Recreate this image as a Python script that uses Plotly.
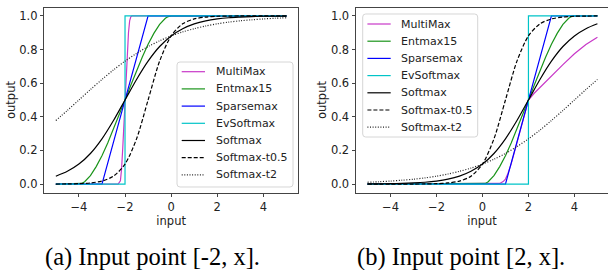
import plotly.graph_objects as go

W, H = 608, 270

# ---------------- data ----------------
series_names = ["MultiMax", "Entmax15", "Sparsemax", "EvSoftmax", "Softmax", "Softmax-t0.5", "Softmax-t2"]

x_grid = [-5, -4.5, -4, -3.5, -3, -2.5, -2, -1.5, -1, -0.5, 0, 0.5, 1, 1.5, 2, 2.5, 3, 3.5, 4, 4.5, 5]

# (a) input point [-2, x]
a_softmax = [0.047, 0.076, 0.119, 0.182, 0.269, 0.378, 0.5, 0.622, 0.731, 0.818, 0.881,
             0.924, 0.953, 0.971, 0.982, 0.989, 0.993, 0.996, 0.998, 0.998, 0.999]
a_softmax_t05 = [0.0003, 0.0009, 0.0025, 0.0067, 0.018, 0.047, 0.119, 0.269, 0.5, 0.731, 0.881,
                 0.953, 0.982, 0.993, 0.998, 0.999, 1.0, 1.0, 1.0, 1.0, 1.0]
a_softmax_t2 = [0.378, 0.438, 0.5, 0.562, 0.622, 0.679, 0.731, 0.777, 0.818, 0.852, 0.881,
                0.905, 0.924, 0.940, 0.953, 0.963, 0.971, 0.977, 0.982, 0.986, 0.989]
a_sparsemax_x = [-5, -3, -1, 5]
a_sparsemax_y = [0, 0, 1, 1]
a_evsoftmax_x = [-5, -2, -2, 5]
a_evsoftmax_y = [0, 0, 1, 1]
a_entmax_x = [-5, -4, -3.875, -3.75, -3.5, -3.25, -3, -2.75, -2.5, -2.25, -2, -1.75, -1.5,
              -1.25, -1, -0.75, -0.5, -0.25, -0.125, 0, 5]
a_entmax_y = [0, 0, 0.004, 0.014, 0.050, 0.104, 0.169, 0.244, 0.326, 0.412, 0.5, 0.588, 0.674,
              0.756, 0.831, 0.896, 0.950, 0.986, 0.996, 1, 1]
a_multimax_x = [-5, -2.3, -2.2, -2.15, -2.1, -2.05, -2, -1.95, -1.9, -1.85, -1.8, -1.75, -1.7, 5]
a_multimax_y = [0, 0, 0.02, 0.09, 0.21, 0.35, 0.5, 0.64, 0.78, 0.9, 0.97, 0.995, 1, 1]

# (b) input point [2, x]
b_softmax = [0.001, 0.0015, 0.0025, 0.004, 0.0067, 0.011, 0.018, 0.029, 0.047, 0.076, 0.119,
             0.182, 0.269, 0.378, 0.5, 0.622, 0.731, 0.818, 0.881, 0.924, 0.953]
b_softmax_t05 = [0.0, 0.0, 0.0, 0.0001, 0.0003, 0.0009, 0.0025, 0.0067, 0.018, 0.047, 0.119,
                 0.269, 0.5, 0.731, 0.881, 0.953, 0.982, 0.993, 0.998, 0.999, 1.0]
b_softmax_t2 = [0.011, 0.014, 0.018, 0.023, 0.029, 0.037, 0.047, 0.060, 0.076, 0.095, 0.119,
                0.148, 0.182, 0.223, 0.269, 0.321, 0.378, 0.438, 0.5, 0.562, 0.622]
b_sparsemax_x = [-5, 1, 3, 5]
b_sparsemax_y = [0, 0, 1, 1]
b_evsoftmax_x = [-5, 2, 2, 5]
b_evsoftmax_y = [0, 0, 1, 1]
b_entmax_x = [-5, 0, 0.125, 0.25, 0.5, 0.75, 1, 1.25, 1.5, 1.75, 2, 2.25, 2.5,
              2.75, 3, 3.25, 3.5, 3.75, 3.875, 4, 5]
b_entmax_y = [0, 0, 0.004, 0.014, 0.050, 0.104, 0.169, 0.244, 0.326, 0.412, 0.5, 0.588, 0.674,
              0.756, 0.831, 0.896, 0.950, 0.986, 0.996, 1, 1]
b_multimax_x = [-5, 0.6, 0.75, 0.9, 1.0, 1.1, 1.25, 1.5, 1.75, 2, 2.25, 2.5, 3, 3.5, 4, 4.5, 5]
b_multimax_y = [0, 0, 0.004, 0.015, 0.03, 0.06, 0.12, 0.245, 0.37, 0.5, 0.54, 0.575, 0.645,
                0.71, 0.775, 0.83, 0.873]

x_ticks = [-4, -2, 0, 2, 4]
y_ticks = [0.0, 0.2, 0.4, 0.6, 0.8, 1.0]
captions = ["(a) Input point [-2, x].", "(b) Input point [2, x]."]

# ---------------- styles ----------------
colors = ["#c838c8", "#1a941a", "#0000ff", "#00c4c8", "#000000", "#000000", "#222222"]
dashes = ["solid", "solid", "solid", "solid", "solid", "4px,2px", "1px,1.6px"]
shapes_ = ["linear", "linear", "linear", "linear", "spline", "spline", "spline"]
LW = 1.2

fig = go.Figure()

panels = [
    dict(xs=[a_multimax_x, a_entmax_x, a_sparsemax_x, a_evsoftmax_x, x_grid, x_grid, x_grid],
         ys=[a_multimax_y, a_entmax_y, a_sparsemax_y, a_evsoftmax_y, a_softmax, a_softmax_t05, a_softmax_t2],
         xa="x", ya="y"),
    dict(xs=[b_multimax_x, b_entmax_x, b_sparsemax_x, b_evsoftmax_x, x_grid, x_grid, x_grid],
         ys=[b_multimax_y, b_entmax_y, b_sparsemax_y, b_evsoftmax_y, b_softmax, b_softmax_t05, b_softmax_t2],
         xa="x2", ya="y2"),
]

for p in panels:
    for i, name in enumerate(series_names):
        fig.add_trace(go.Scatter(
            x=p["xs"][i], y=p["ys"][i], name=name, mode="lines",
            line=dict(color=colors[i], width=LW, dash=dashes[i], shape=shapes_[i], smoothing=0.8),
            xaxis=p["xa"], yaxis=p["ya"], showlegend=False, hoverinfo="skip"))

TICKFONT = dict(family="DejaVu Sans", size=11.5, color="#222222")
TITLEFONT = dict(family="DejaVu Sans", size=11.5, color="#222222")
AXC = "#444444"


def px_x(v):
    return v / W


def px_y(v):
    return 1 - v / H


common_x = dict(range=[-5.5, 5.5], tickvals=x_ticks, ticks="outside", ticklen=3.5, tickwidth=1,
                tickcolor=AXC, showline=True, linecolor=AXC, linewidth=1, showgrid=False,
                zeroline=False, tickfont=TICKFONT, mirror=True,
                title=dict(text="input", font=TITLEFONT, standoff=0))
common_y = dict(range=[-0.05, 1.05], tickvals=y_ticks, tickformat=".1f", ticks="outside",
                ticklen=3.5, tickwidth=1, tickcolor=AXC, showline=True, linecolor=AXC,
                linewidth=1, showgrid=False, zeroline=False, tickfont=TICKFONT,
                title=dict(text="output", font=TITLEFONT, standoff=1))

ydom = [px_y(192.5), px_y(7.5)]
fig.update_layout(
    width=W, height=H, margin=dict(l=0, r=0, t=0, b=0),
    paper_bgcolor="white", plot_bgcolor="white", showlegend=False,
    xaxis=dict(common_x, domain=[px_x(44.3), px_x(298.0)], anchor="y"),
    yaxis=dict(common_y, domain=ydom, anchor="x", mirror=True),
    xaxis2=dict(common_x, domain=[px_x(356.0), 1.0], anchor="y2", range=[-5.5, 5.46]),
    yaxis2=dict(common_y, domain=ydom, anchor="x2", mirror=False),
)

# ---------------- manual legends ----------------
shapes = []
annotations = []


def rounded_box(x0, y0, x1, y1, r=3):
    def P(x, y):
        return f"{px_x(x):.5f},{px_y(y):.5f}"
    return (f"M {P(x0 + r, y0)} L {P(x1 - r, y0)} Q {P(x1, y0)} {P(x1, y0 + r)} "
            f"L {P(x1, y1 - r)} Q {P(x1, y1)} {P(x1 - r, y1)} L {P(x0 + r, y1)} "
            f"Q {P(x0, y1)} {P(x0, y1 - r)} L {P(x0, y0 + r)} Q {P(x0, y0)} {P(x0 + r, y0)} Z")


legend_boxes = [(177, 62, 293, 187, 71.7), (362.7, 14, 477.7, 137, 24.0)]
STEP = 17.2
for (bx0, by0, bx1, by1, first) in legend_boxes:
    shapes.append(dict(type="path", xref="paper", yref="paper", path=rounded_box(bx0, by0, bx1, by1),
                       line=dict(color="#d6d6d6", width=1), fillcolor="white", layer="above"))
    for i, name in enumerate(series_names):
        yc = first + i * STEP
        shapes.append(dict(type="line", xref="paper", yref="paper",
                           x0=px_x(bx0 + 4.7), x1=px_x(bx0 + 28), y0=px_y(yc), y1=px_y(yc),
                           line=dict(color=colors[i], width=LW, dash=dashes[i]), layer="above"))
        annotations.append(dict(text=name, xref="paper", yref="paper", x=px_x(bx0 + 36.5),
                                y=px_y(yc), xanchor="left", yanchor="middle", showarrow=False,
                                font=dict(family="DejaVu Sans", size=11, color="#222222")))

# captions
for cx, txt in zip([152, 461], captions):
    annotations.append(dict(text=txt, xref="paper", yref="paper", x=px_x(cx), y=px_y(257),
                            xanchor="center", yanchor="middle", showarrow=False,
                            font=dict(family="Liberation Serif, Times New Roman, serif",
                                      size=24.5, color="#000000")))

fig.update_layout(shapes=shapes, annotations=annotations)
fig.write_html("out.html", config={"displayModeBar": False},
               post_script="document.body.style.margin='0';document.body.style.padding='0';")
